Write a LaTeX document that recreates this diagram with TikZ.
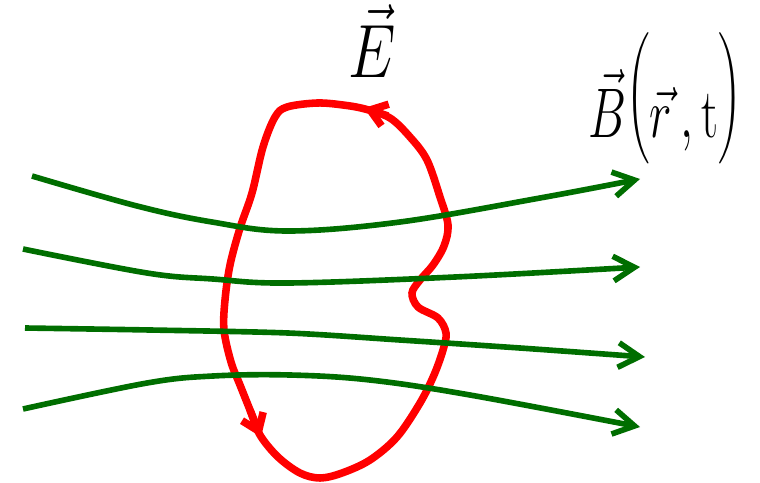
\RequirePackage{fix-cm}
\documentclass[tikz,border=0pt]{standalone}
\usepackage{amsmath}
\usetikzlibrary{arrows.meta}
\definecolor{fieldgreen}{RGB}{0,110,0}
\definecolor{loopred}{RGB}{255,0,0}
\newcommand{\raisedparen}[1]{\raisebox{12pt}{$\Big#1$}}

\begin{document}
\begin{tikzpicture}[
    x=0.02cm, y=-0.02cm,
    fieldline/.style={draw=fieldgreen, line width=3.2pt, -{Straight Barb[length=12pt, width=14pt]}},
    loopline/.style={draw=loopred, line width=4.3pt},
    looparrow/.style={loopline, -{Straight Barb[length=9pt, width=13pt]}},
    biglabel/.style={inner sep=0pt, anchor=base}
]
\useasboundingbox (0,0) rectangle (760,483);

% Induced electric field loop
\draw[loopline] plot[smooth cycle, tension=0.55] coordinates {
    (448,225) (440,197) (427,160) (410,137) (390,118) (365,109) (343,105)
    (317,103) (287,107) (275,117) (263,147) (252,193) (240,228) (230,265)
    (225,300) (224,330) (231,362) (240,385) (250,410) (260,435) (278,457)
    (300,473) (320,478) (342,473) (370,460) (397,437) (420,403) (434,375)
    (443,350) (446,333) (438,318) (418,307) (412,293) (420,280) (433,265)
    (444,246)};

% Loop direction
\coordinate (top_from) at (388,116);
\coordinate (top_to) at (364,108);
\coordinate (left_from) at (250,410);
\coordinate (left_to) at (261,437);
\draw[looparrow] (top_from) -- (top_to);
\draw[looparrow] (left_from) -- (left_to);

% Magnetic field lines
\draw[fieldline] plot[smooth, tension=0.6] coordinates {
    (32,176) (137,206) (212,222) (288,231) (400,222) (540,198) (640,179)};
\draw[fieldline] plot[smooth, tension=0.6] coordinates {
    (23,249) (147,273) (213,279) (288,283) (455,277) (640,267)};
\draw[fieldline] plot[smooth, tension=0.5] coordinates {
    (25,328) (150,330) (288,333) (400,340) (520,348) (645,357)};
\draw[fieldline] plot[smooth, tension=0.6] coordinates {
    (23,409) (147,383) (213,376) (290,375) (370,380) (470,395) (640,427)};

% Labels
\node[biglabel, font=\fontsize{43}{52}\selectfont] (efield) at (372,78)
    {\scalebox{0.8}[1]{$\vec{E}$}};
\node[biglabel, anchor=base west, font=\fontsize{40}{48}\selectfont] (bfield) at (588,137)
    {\scalebox{0.68}[1]{$\vec{B}\raisedparen(\vec{r}\,,\mathrm{t}\raisedparen)$}};

\end{tikzpicture}
\end{document}
